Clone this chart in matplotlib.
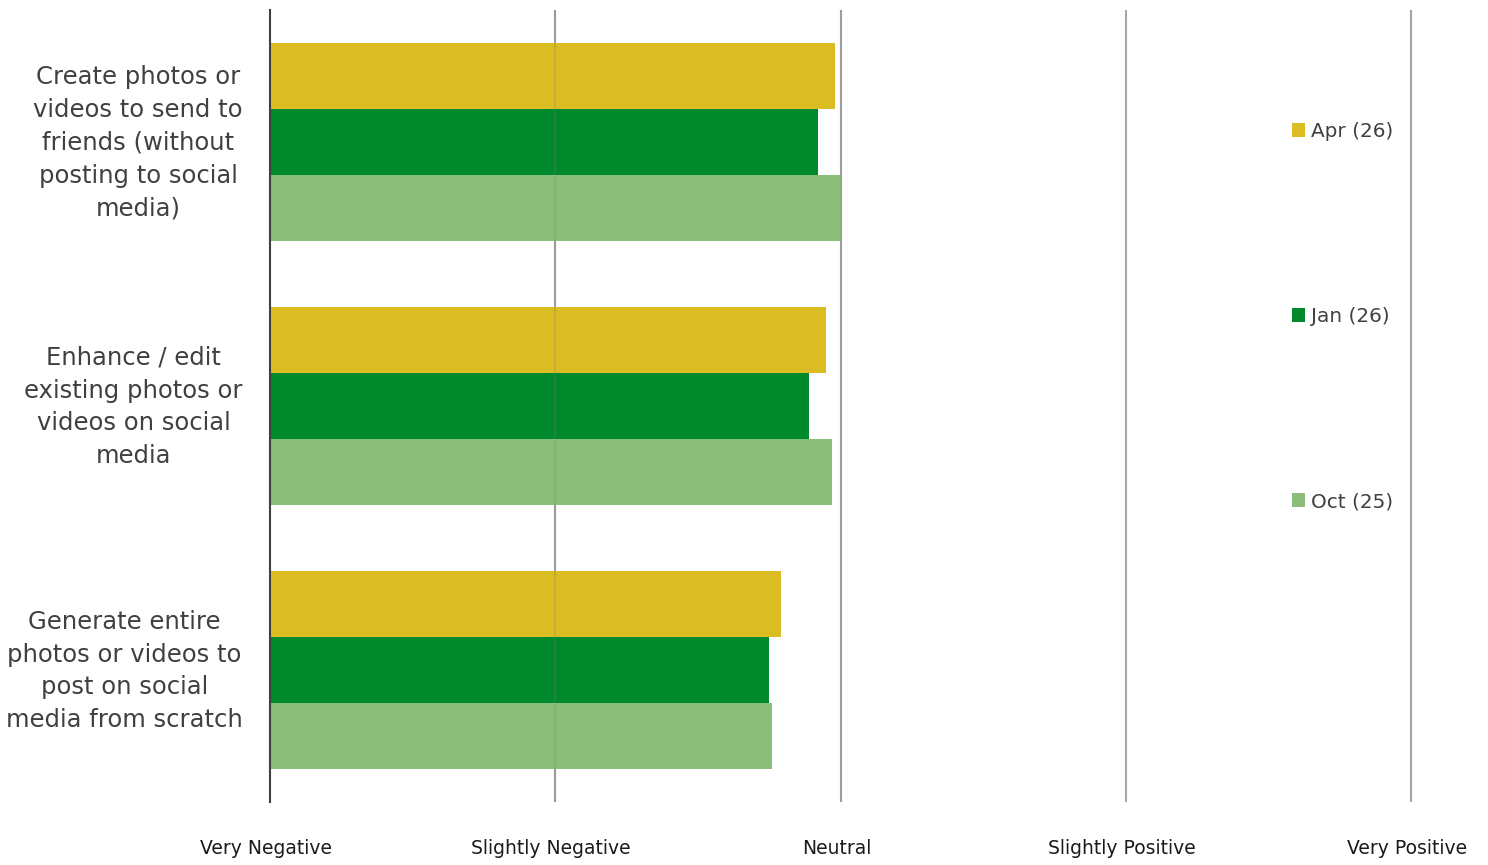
import matplotlib
matplotlib.use("Agg")
import matplotlib.pyplot as plt
import matplotlib.transforms as mtransforms
import numpy as np

categories = [
    "Create photos or\nvideos to send to\nfriends (without\nposting to social\nmedia)",
    "Enhance / edit\nexisting photos or\nvideos on social\nmedia",
    "Generate entire\nphotos or videos to\npost on social\nmedia from scratch",
]
series_names = ["Apr (26)", "Jan (26)", "Oct (25)"]
apr_values = [2.98, 2.95, 2.79]
jan_values = [2.92, 2.89, 2.75]
oct_values = [3.00, 2.97, 2.76]
x_tick_values = [1, 2, 3, 4, 5]
x_tick_labels = ["Very Negative", "Slightly Negative", "Neutral", "Slightly Positive", "Very Positive"]

colors = ["#DBBD23", "#00882C", "#8BBE78"]

fig = plt.figure(figsize=(14.88, 8.65), dpi=100)
ax = fig.add_axes([270/1488, 1-802/865, (1411-270)/1488, (802-10)/865])

y = np.arange(len(categories))
h = 0.25
offsets = [-h, 0, h]
all_vals = [apr_values, jan_values, oct_values]
for vals, off, c, name in zip(all_vals, offsets, colors, series_names):
    ax.barh(y + off, np.array(vals) - 1, left=1, height=h, color=c, label=name,
            zorder=2, linewidth=0)

ax.set_xlim(1, 5)
ax.set_ylim(2.5, -0.5)
ax.vlines([2, 3, 4, 5], -0.5, 2.5, colors="#A6A6A6", linewidth=1.5, zorder=1, clip_on=False)
ax.vlines([2, 3], -0.5, 2.5, colors="#808080", linewidth=1.5, zorder=2.5, alpha=0.25, clip_on=False)

for s in ["top", "right", "bottom"]:
    ax.spines[s].set_visible(False)
ax.spines["left"].set_color("#404040")
ax.spines["left"].set_linewidth(1.5)
ax.spines["left"].set_zorder(3)

ax.set_xticks(x_tick_values)
ax.set_xticklabels(x_tick_labels, fontsize=13.5, color="#1a1a1a")
ax.tick_params(axis="x", length=0, pad=27)
ax.set_yticks(y)
ax.set_yticklabels(categories, fontsize=17.5, color="#404040", linespacing=1.47)
ax.tick_params(axis="y", length=0, pad=19.5)

xoff = mtransforms.ScaledTranslation(-4/100, 0, fig.dpi_scale_trans)
for t in ax.get_xticklabels():
    t.set_transform(t.get_transform() + xoff)
yoff = mtransforms.ScaledTranslation(0, 6/100, fig.dpi_scale_trans)
for t in ax.get_yticklabels():
    t.set_multialignment("center")
    t.set_transform(t.get_transform() + yoff)

leg = fig.legend(loc="upper left", bbox_to_anchor=(1292/1488, 1-122/865), frameon=False,
                 fontsize=14.4, handlelength=0.65, handleheight=0.65, handletextpad=0.3,
                 labelspacing=8.3, borderaxespad=0, borderpad=0)
for t in leg.get_texts():
    t.set_color("#404040")

fig.savefig("out.png", dpi=100)
